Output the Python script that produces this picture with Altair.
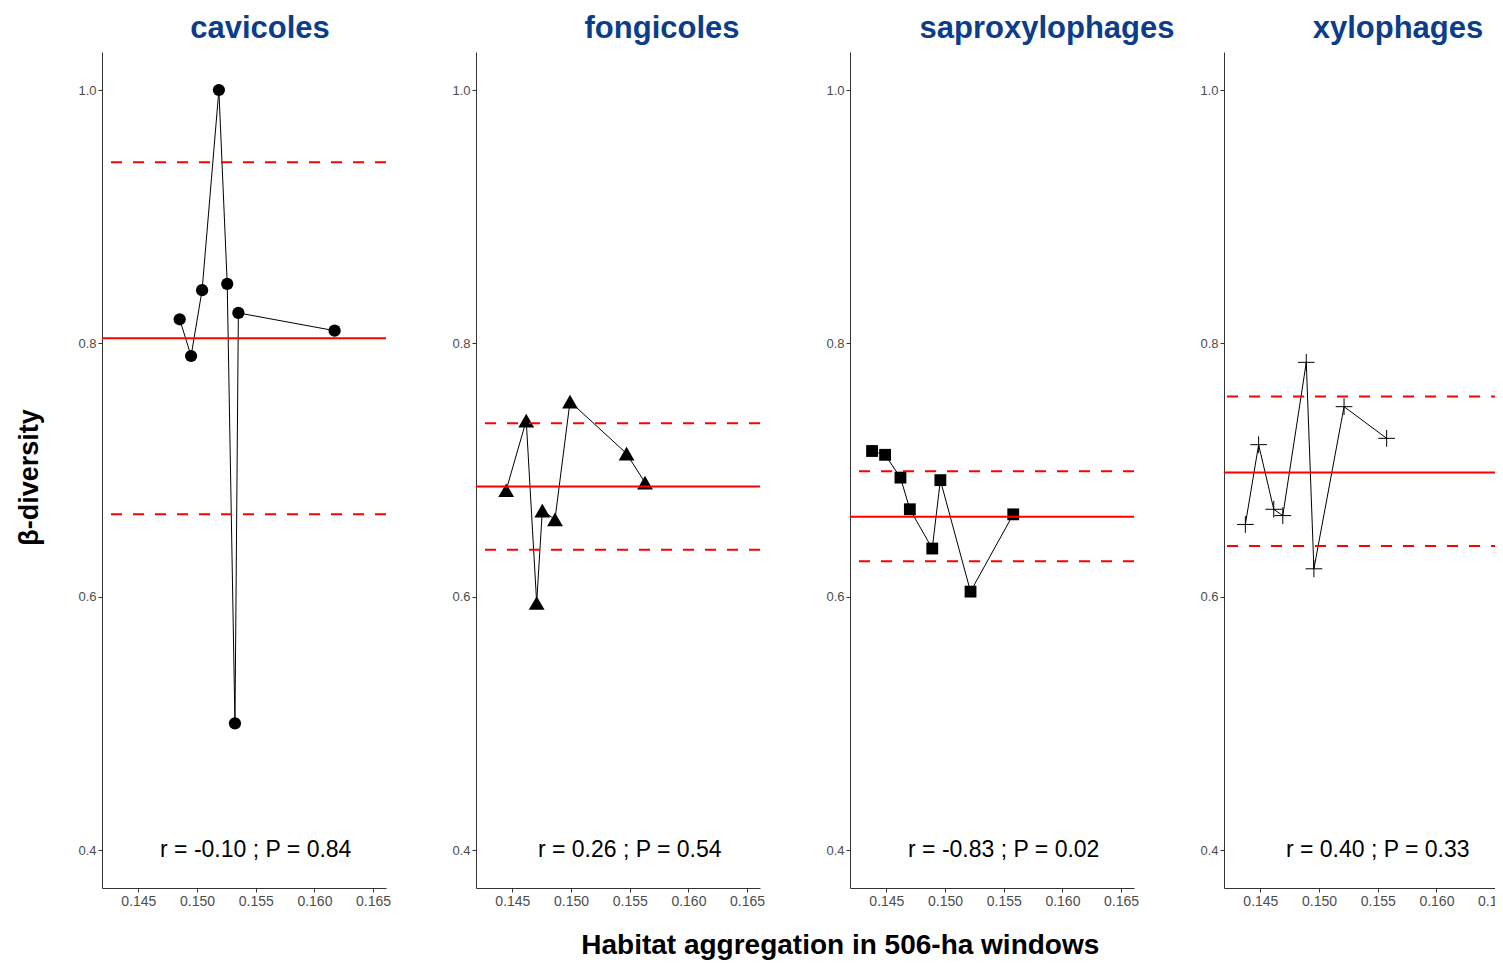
import altair as alt
import pandas as pd

groups = ["cavicoles", "fongicoles", "saproxylophages", "xylophages"]

cav_x = [0.14852, 0.14949, 0.15043, 0.15186, 0.15257, 0.15323, 0.15352, 0.16172]
cav_y = [0.819, 0.790, 0.842, 1.000, 0.847, 0.500, 0.824, 0.810]
fon_x = [0.14447, 0.14618, 0.14707, 0.14755, 0.14863, 0.14991, 0.15473, 0.15630]
fon_y = [0.684, 0.739, 0.595, 0.668, 0.661, 0.754, 0.713, 0.690]
sap_x = [0.14378, 0.14489, 0.14620, 0.14700, 0.14891, 0.14960, 0.15217, 0.15581]
sap_y = [0.715, 0.712, 0.694, 0.669, 0.638, 0.692, 0.604, 0.665]
xyl_x = [0.14372, 0.14485, 0.14614, 0.14691, 0.14891, 0.14956, 0.15213, 0.15576]
xyl_y = [0.657, 0.720, 0.669, 0.664, 0.785, 0.622, 0.750, 0.725]

means = [0.804, 0.687, 0.663, 0.698]
upper = [0.943, 0.737, 0.699, 0.758]
lower = [0.665, 0.637, 0.628, 0.640]

r_labels = ["r = -0.10 ; P = 0.84", "r = 0.26 ; P = 0.54",
            "r = -0.83 ; P = 0.02", "r = 0.40 ; P = 0.33"]
label_x = 0.155
label_y = 0.4

x_ticks = [0.145, 0.150, 0.155, 0.160, 0.165]
y_ticks = [0.4, 0.6, 0.8, 1.0]

series_x = [cav_x, fon_x, sap_x, xyl_x]
series_y = [cav_y, fon_y, sap_y, xyl_y]

shapes = ["circle", "triangle-up", "square", "M-1,0H1M0,-1V1"]
sizes = [150, 250, 140, 280]
filled = [True, True, True, False]
title_dx = [16, 44, 55, 35]

SANS = "Liberation Sans, Arial, sans-serif"

X_DOMAIN = [0.1419, 0.1661]
Y_DOMAIN = [0.37, 1.03]
W = 284
H = 836


def panel(i):
    df = pd.DataFrame({"x": series_x[i], "y": series_y[i]})
    last = i == 3
    w = 278 if last else W
    xdom = [X_DOMAIN[0], X_DOMAIN[0] + (X_DOMAIN[1] - X_DOMAIN[0]) * w / W]
    xenc = alt.X("x:Q", scale=alt.Scale(domain=xdom, nice=False, zero=False),
                 axis=alt.Axis(values=x_ticks, format=".3f", title=None, labelFontSize=14,
                               labelPadding=2, tickSize=4))
    yaxis_kw = dict(values=y_ticks, format=".1f", labelFontSize=13,
                    labelPadding=2, tickSize=4)
    if i == 0:
        yaxis_kw.update(title="β-diversity", titleFont=SANS, titleFontSize=27,
                        titleFontWeight="bold", titleColor="black",
                        titlePadding=34, titleY=425)
    else:
        yaxis_kw["title"] = None
    yenc = alt.Y("y:Q", scale=alt.Scale(domain=Y_DOMAIN, nice=False, zero=False),
                 axis=alt.Axis(**yaxis_kw))

    line = alt.Chart(df).mark_line(color="black", strokeWidth=1).encode(x=xenc, y=yenc)
    pts = alt.Chart(df).mark_point(shape=shapes[i], filled=filled[i], size=sizes[i],
                                   color="black", opacity=1,
                                   strokeWidth=1).encode(x=xenc, y=yenc)
    solid = alt.Chart(pd.DataFrame({"y": [means[i]]})).mark_rule(
        color="#ff0000", strokeWidth=2).encode(y=yenc)
    dashed = alt.Chart(pd.DataFrame({"y": [upper[i], lower[i]]})).mark_rule(
        color="#ff0000", strokeWidth=2, strokeDash=[11, 11]).encode(y=yenc)
    txt = alt.Chart(pd.DataFrame({"x": [label_x], "y": [label_y], "t": [r_labels[i]]})).mark_text(
        fontSize=23, font=SANS, color="black", align="center", baseline="middle"
    ).encode(x=xenc, y=yenc, text="t:N")

    return alt.layer(line, pts, solid, dashed, txt).properties(
        width=w, height=H,
        title=alt.TitleParams(groups[i], font=SANS, fontSize=31, fontWeight="bold",
                              color="#0b3d8a", anchor="middle", dx=title_dx[i], offset=7),
    )


chart = alt.hconcat(*[panel(i) for i in range(4)], spacing=90, bounds="flush").properties(
    title=alt.TitleParams("Habitat aggregation in 506-ha windows", orient="bottom",
                          anchor="middle", font=SANS, fontSize=28, fontWeight="bold",
                          color="black", offset=24, dx=76),
    padding={"left": 7, "top": 5, "right": -18, "bottom": 0},
).configure_view(stroke=None).configure_axis(
    grid=False, domainColor="#333333", domainWidth=1, tickColor="#333333",
    labelColor="#4d4d4d", labelFont=SANS,
)

chart.save("out.html", embed_options={"renderer": "svg", "actions": False})
